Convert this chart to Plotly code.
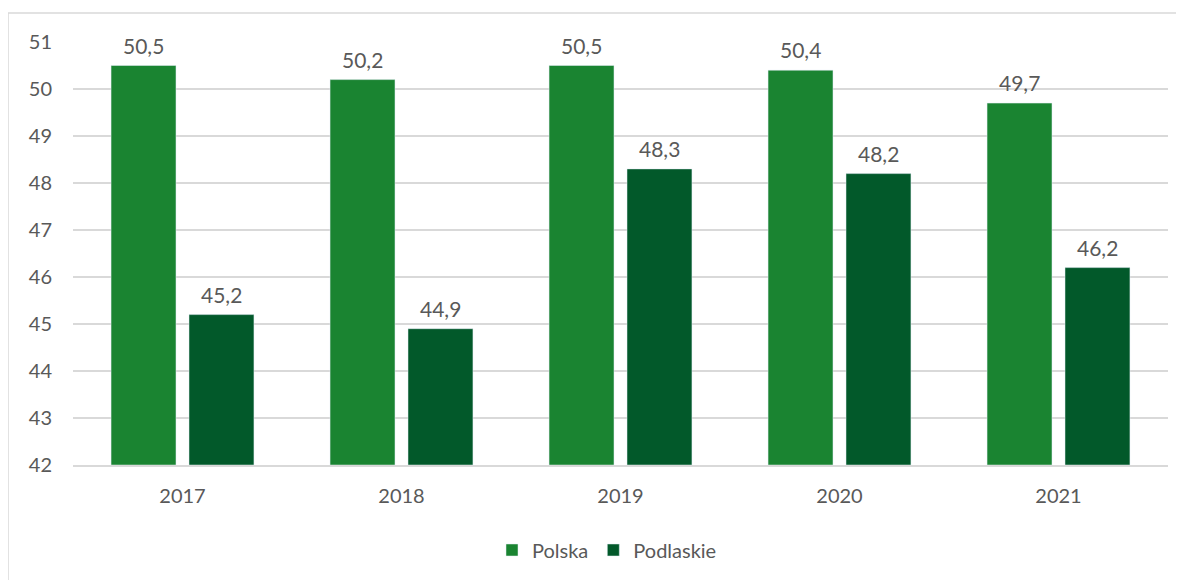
import plotly.graph_objects as go

years = ["2017", "2018", "2019", "2020", "2021"]
polska = [50.5, 50.2, 50.5, 50.4, 49.7]
podlaskie = [45.2, 44.9, 48.3, 48.2, 46.2]
y_ticks = [42, 43, 44, 45, 46, 47, 48, 49, 50, 51]

def fmt(v):
    return f"{v:.1f}".replace(".", ",")

FONT = "Lato, Carlito, Calibri, sans-serif"
GREY = "#595959"
FS = 20

fig = go.Figure()
fig.add_trace(go.Bar(name="Polska", x=years, y=[v - 42 for v in polska], base=42,
                     marker_color="#1A8431"))
fig.add_trace(go.Bar(name="Podlaskie", x=years, y=[v - 42 for v in podlaskie], base=42,
                     marker_color="#02592A"))

OFF = 8  # page body margin
W, H = 1184 - OFF, 580 - OFF
L, R, T, B = 73 - OFF, 1168 - OFF, 42 - OFF, 466 - OFF
pw, ph = R - L, B - T

def px(x):
    return (x - OFF - L) / pw

def py(y):
    return (B - (y - OFF)) / ph

annotations = []
for series, shift in ((polska, -39), (podlaskie, 39)):
    for i, v in enumerate(series):
        annotations.append(dict(x=i, y=v, xref="x", yref="y", text=fmt(v),
                                showarrow=False, xshift=shift, yshift=6,
                                yanchor="bottom", xanchor="center",
                                font=dict(size=FS + 1, color=GREY, family=FONT)))

fig.update_layout(
    width=W, height=H,
    margin=dict(l=L, r=W - R, t=T, b=H - B, pad=0),
    paper_bgcolor="white", plot_bgcolor="white",
    barmode="group", bargap=0.288, bargroupgap=0.167,
    font=dict(family=FONT, size=FS, color=GREY),
    showlegend=True,
    legend=dict(orientation="h", x=px(607), xanchor="center", y=py(550), yanchor="middle",
                font=dict(size=FS, color=GREY, family=FONT), itemwidth=30,
                traceorder="normal"),
    xaxis=dict(type="category", showgrid=False, showline=True, linecolor="#d9d9d9",
               linewidth=1.5, ticks="", tickfont=dict(size=FS, color=GREY),
               ticklabelstandoff=12),
    yaxis=dict(range=[42, 51], tickvals=y_ticks, showgrid=True, gridcolor="#d9d9d9",
               gridwidth=1.5, zeroline=False, showline=False, ticks="",
               tickfont=dict(size=FS, color=GREY), ticklabelstandoff=20),
    annotations=annotations,
    shapes=[dict(type="rect", xref="paper", yref="paper",
                 x0=px(8), x1=px(1183), y0=py(620), y1=py(13),
                 line=dict(color="#d9d9d9", width=1.5), fillcolor="rgba(0,0,0,0)",
                 layer="below")],
)

fig.write_html("out.html")
